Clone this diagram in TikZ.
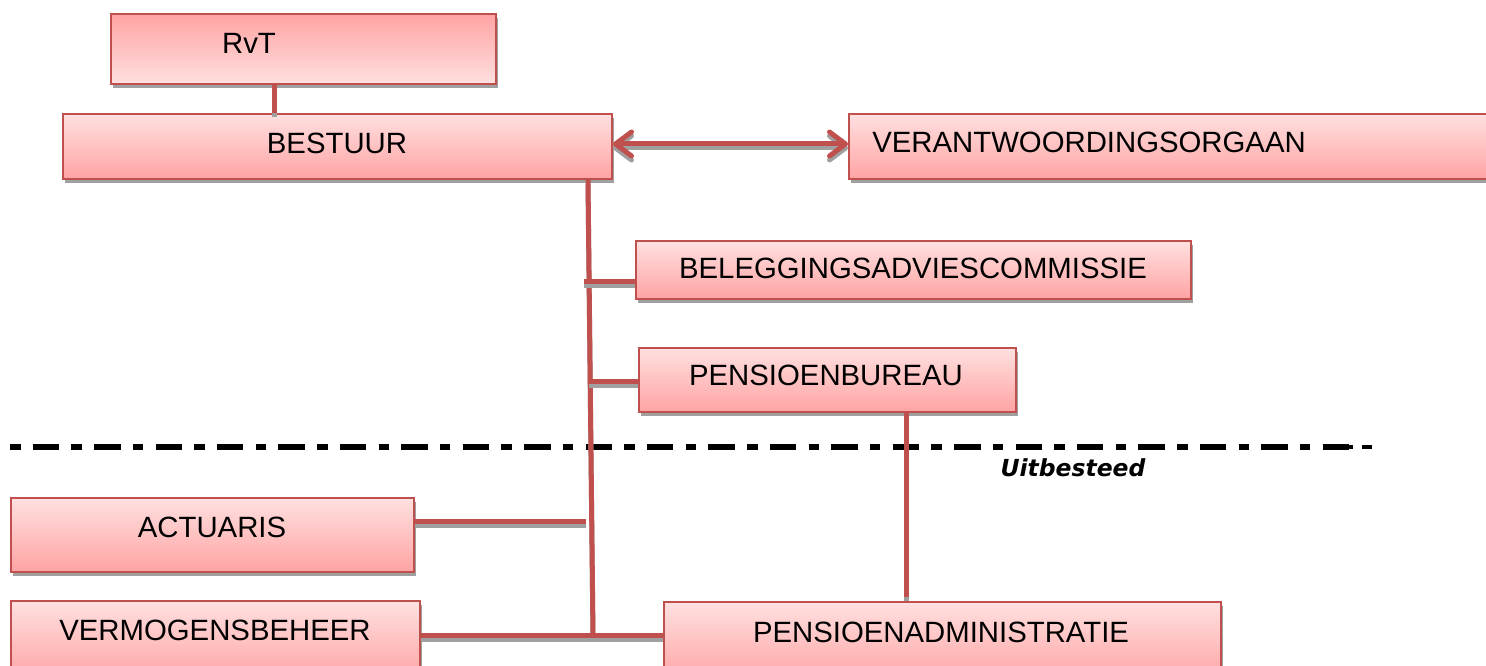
\documentclass[tikz,border=0pt]{standalone}
\usepackage{fontspec}
\setmainfont{Liberation Sans}
\newfontfamily\uitfont{DejaVu Sans}
\usetikzlibrary{arrows.meta,shadows}
\definecolor{bred}{HTML}{C0504D}
\definecolor{shgray}{HTML}{A0A0A0}
\definecolor{plight}{HTML}{FFE0E0}
\definecolor{pdark}{HTML}{FFA3A3}
\begin{document}
\begin{tikzpicture}[x=0.75pt,y=-0.75pt,
  box/.style={draw=bred, line width=1.5pt, rectangle, anchor=north west, inner sep=0pt,
    top color=plight, bottom color=pdark,
    drop shadow={shadow xshift=1.5pt, shadow yshift=-3pt, fill=shgray, opacity=1}},
  boxrev/.style={box, top color=pdark, bottom color=plight},
  lbl/.style={font=\fontsize{22}{24}\selectfont, inner sep=0pt, text height=15.75pt, text depth=0pt},
  conn/.style={draw=bred, line width=3.75pt,
    preaction={draw=shgray, line width=3.75pt, transform canvas={yshift=-3pt}}},
  twoway/.style={>={Straight Barb[length=12pt, width=18pt, line cap=round, line join=round]}, <->},
  sep/.style={draw=black, line width=4.2pt, dash pattern=on 7.875pt off 9.15pt on 19.875pt off 9.17pt},
]
\useasboundingbox (0,0) rectangle (1486,666);
\clip (0,0) rectangle (1486,666);

% boxes
\node[boxrev, minimum width=288.75pt, minimum height=52.5pt] (rvt) at (110,13) {};
\node[box, minimum width=411.75pt, minimum height=48.75pt] (bestuur) at (62,113) {};
\node[box, minimum width=489pt, minimum height=48.75pt] (veranw) at (848,113) {};
\node[box, minimum width=416.25pt, minimum height=43.5pt] (beleg) at (635,240) {};
\node[box, minimum width=282.75pt, minimum height=48pt] (pbureau) at (638,347) {};
\node[box, minimum width=302.25pt, minimum height=55.5pt] (actuaris) at (10,497) {};
\node[box, minimum width=306.75pt, minimum height=60pt] (vermogen) at (10,600) {};
\node[box, minimum width=417.75pt, minimum height=60pt] (padmin) at (663,601) {};

% labels
\node[lbl] (rvt-t) at (249,43) {RvT};
\node[lbl] (bestuur-t) at (337,143) {BESTUUR};
\node[lbl, anchor=west] (veranw-t) at (872,142.5) {VERANTWOORDINGSORGAAN};
\node[lbl] (beleg-t) at (913,268.5) {BELEGGINGSADVIESCOMMISSIE};
\node[lbl] (pbureau-t) at (826,375.5) {PENSIOENBUREAU};
\node[lbl] (actuaris-t) at (212,527) {ACTUARIS};
\node[lbl] (vermogen-t) at (215,630) {VERMOGENSBEHEER};
\node[lbl] (padmin-t) at (941,632) {PENSIOENADMINISTRATIE};

% separator
\draw[sep] (10,447) -- (1349,447);
\draw[draw=black, line width=2.4pt, dash pattern=on 11.25pt off 6.75pt] (1338,447) -- (1372,447);
\node[font=\uitfont\bfseries\itshape\fontsize{17.6}{20}\selectfont, inner sep=0pt,
  text height=12.83pt, text depth=0pt] (uit) at (1073,468) {Uitbesteed};

% connectors
\coordinate (trunktop) at (588,178);
\coordinate (trunkbot) at (593,635);
\draw[conn] (274,0 |- rvt.south) -- (274,0 |- bestuur.north);
\draw[conn, twoway] (bestuur.east |- 0,144) -- (veranw.west |- 0,144);
\draw[conn] (trunktop |- bestuur.south) -- (trunkbot);
\draw[conn] (584,282) -- (beleg.west |- 0,282);
\draw[conn] (589,382) -- (pbureau.west |- 0,382);
\draw[conn] (actuaris.east |- 0,522) -- (586,522);
\draw[conn] (vermogen.east |- 0,635) -- (padmin.west |- 0,635);
\draw[conn] (906,0 |- pbureau.south) -- ([yshift=3pt]906,0 |- padmin.north);
\end{tikzpicture}
\end{document}
